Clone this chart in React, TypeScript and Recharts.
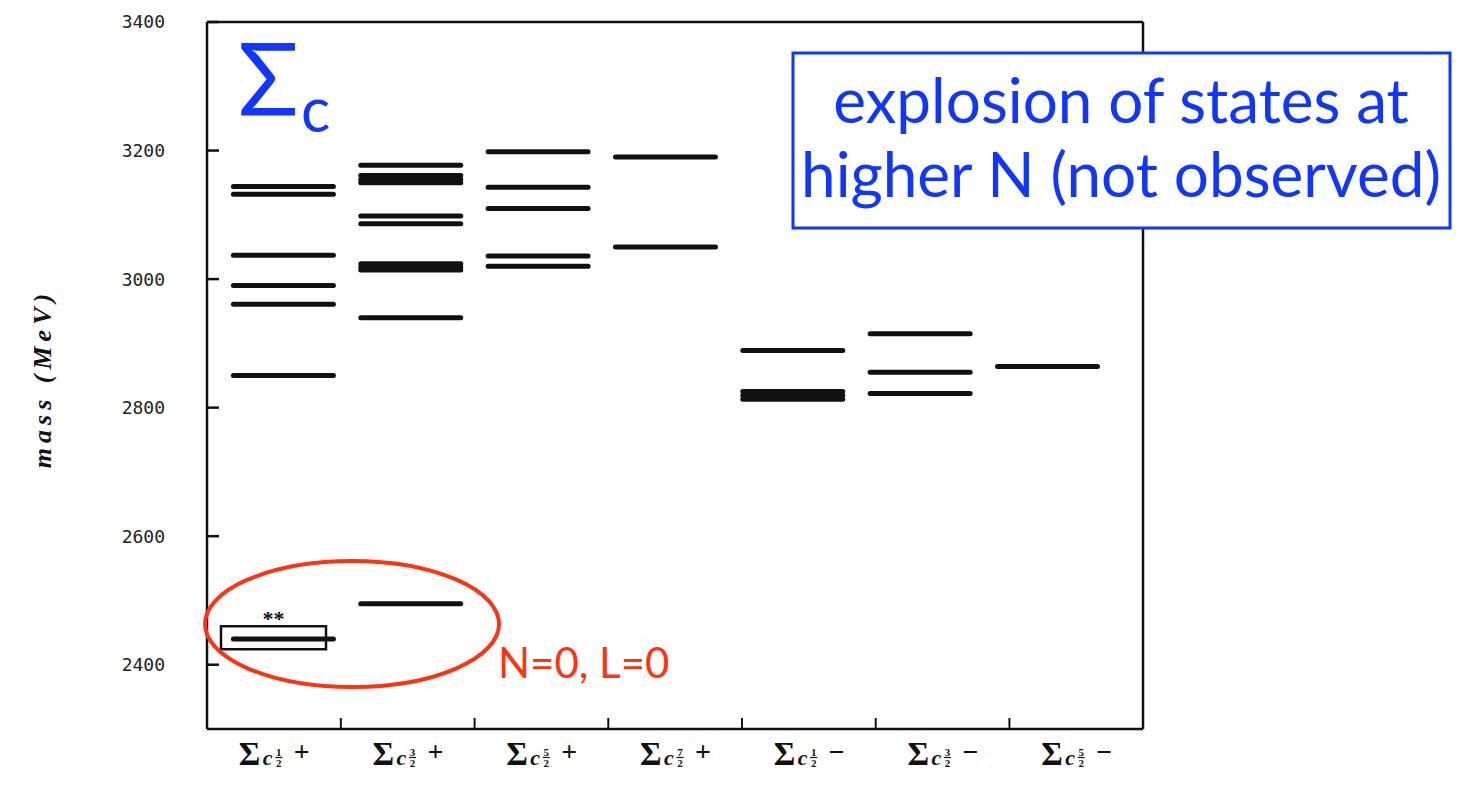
import React from 'react';
import { ComposedChart, XAxis, YAxis, Scatter, Bar, LabelList, ReferenceLine } from 'recharts';

// J^P columns of the Sigma_c spectrum
const spins = ['1/2', '3/2', '5/2', '7/2', '1/2', '3/2', '5/2'];
const parities = ['+', '+', '+', '+', '−', '−', '−'];

// predicted masses (MeV), one list per column
const levels12p = [3144, 3132, 3037, 2990, 2961, 2850, 2440];
const levels32p = [3177, 3161, 3155, 3150, 3098, 3086, 3024, 3019, 3014, 2940, 2495];
const levels52p = [3198, 3143, 3110, 3036, 3020];
const levels72p = [3190, 3050];
const levels12m = [2889, 2825, 2819, 2813];
const levels32m = [2915, 2855, 2822];
const levels52m = [2864];

// measured ground state band (MeV)
const measuredBand = [2424, 2460];
const massTicks = [2400, 2600, 2800, 3000, 3200, 3400];

const BLUE = '#1136ff';
const RED = '#ff3312';
const INK = '#111';
const HALF_BAND = 67;

const columns = [levels12p, levels32p, levels52p, levels72p, levels12m, levels32m, levels52m];
const levelPoints = columns.flatMap((masses, col) => masses.map((mass) => ({ col, mass })));

const names = spins.map((s, i) => `Σc ${s}${parities[i]}`);
const rows = names.map((name, i) => ({
  name,
  box: i === 0 ? measuredBand : null,
  note: i === 0 ? '**' : '',
}));

const MassTick = ({ x, y, payload }: any) => (
  <g>
    <text x={x} y={y} dy="0.36em" textAnchor="end" fontFamily="'DejaVu Sans Mono', monospace" fontSize={18} fill="#222">
      {payload.value}
    </text>
    <line x1={x + 42} x2={x + 54} y1={y} y2={y} stroke={INK} strokeWidth={2.5} />
  </g>
);

const InnerTick = ({ x, y }: any) => <line x1={x - 12} x2={x} y1={y} y2={y} stroke={INK} strokeWidth={2.5} />;

const SpinTick = (props: any) => {
  const { x, y, payload } = props;
  const index = props.index ?? payload.index;
  const [num, den] = spins[index].split('/');
  const base = y + 36;
  return (
    <g fill={INK} fontFamily="'Liberation Serif', serif" fontWeight="bold">
      <text x={x - 35} y={base} fontSize={33}>Σ</text>
      <text x={x - 11} y={base} fontSize={22} fontStyle="italic">c</text>
      <text x={x + 5} y={base - 9} fontSize={11} textAnchor="middle">{num}</text>
      <line x1={x + 1.5} x2={x + 8.5} y1={base - 7.5} y2={base - 7.5} stroke={INK} strokeWidth={1.2} />
      <text x={x + 5} y={base + 2} fontSize={11} textAnchor="middle">{den}</text>
      <text x={x + 28} y={base - 4} fontSize={28} textAnchor="middle">{parities[index]}</text>
      {index < spins.length - 1 && (
        <line x1={x + HALF_BAND} x2={x + HALF_BAND} y1={y} y2={y - 11} stroke={INK} strokeWidth={2} />
      )}
    </g>
  );
};

const MassLabel = ({ viewBox }: any) => {
  const cx = viewBox.x - 105;
  const cy = viewBox.y + viewBox.height / 2 + 3;
  return (
    <text
      x={cx}
      y={cy}
      transform={`rotate(-90 ${cx} ${cy})`}
      textAnchor="middle"
      dominantBaseline="central"
      fontFamily="'Liberation Serif', serif"
      fontStyle="italic"
      fontWeight="bold"
      fontSize={26}
      letterSpacing={5}
      fill={INK}
    >
      mass (MeV)
    </text>
  );
};

// one horizontal bar per predicted level
const LevelLine = ({ cx, cy }: any) => (
  <line x1={cx - 50} x2={cx + 50} y1={cy} y2={cy} stroke={INK} strokeWidth={5} strokeLinecap="round" />
);

const App = () => (
  <div style={{ position: 'absolute', left: 0, top: 0, width: 1463, height: 788, background: '#fff' }}>
    <ComposedChart width={1463} height={788} data={rows} margin={{ top: 22, right: 310, bottom: 0, left: 147 }}>
      <XAxis
        dataKey="name"
        interval={0}
        height={59}
        tickSize={0}
        tickMargin={0}
        tickLine={false}
        axisLine={{ stroke: INK, strokeWidth: 2.5 }}
        tick={(p: any) => <SpinTick {...p} />}
      />
      <XAxis xAxisId="levels" dataKey="col" type="number" domain={[-0.6, 6.75]} hide />
      <YAxis
        dataKey="mass"
        type="number"
        domain={[2300, 3400]}
        ticks={massTicks}
        width={60}
        tickSize={0}
        tickMargin={42}
        tickLine={false}
        axisLine={{ stroke: INK, strokeWidth: 2.5 }}
        tick={(p: any) => <MassTick {...p} />}
        label={(p: any) => <MassLabel {...p} />}
      />
      <YAxis
        yAxisId="right"
        orientation="right"
        type="number"
        domain={[2300, 3400]}
        ticks={massTicks.slice(0, -1)}
        width={10}
        tickSize={0}
        tickMargin={0}
        tickLine={false}
        axisLine={{ stroke: INK, strokeWidth: 2.5 }}
        tick={(p: any) => <InnerTick {...p} />}
      />
      <ReferenceLine y={3400} stroke={INK} strokeWidth={2.5} />
      <Bar dataKey="box" fill="#fff" stroke={INK} strokeWidth={2.5} barSize={105} isAnimationActive={false}>
        <LabelList dataKey="note" position="top" offset={0} fill={INK} fontSize={22} fontWeight="bold" />
      </Bar>
      <Scatter xAxisId="levels" data={levelPoints} dataKey="mass" shape={(p: any) => <LevelLine {...p} />} isAnimationActive={false} />
    </ComposedChart>
    <svg width={1463} height={788} style={{ position: 'absolute', left: 0, top: 0, pointerEvents: 'none' }}>
      <g fontFamily="Lato, 'Open Sans', sans-serif" fill={BLUE}>
        <text x={238} y={115} fontSize={100}>Σ</text>
        <text x={301} y={132} fontSize={61}>c</text>
      </g>
      <rect x={793} y={53} width={657} height={175} fill="#fff" stroke={BLUE} strokeWidth={3} />
      <g fontFamily="Lato, 'Open Sans', sans-serif" fill={BLUE} fontSize={62} textAnchor="middle">
        <text x={1121} y={123}>explosion of states at</text>
        <text x={1121} y={197}>higher N (not observed)</text>
      </g>
      <ellipse cx={352} cy={624} rx={147} ry={63} fill="none" stroke={RED} strokeWidth={4} />
      <text x={498} y={678} fontFamily="Lato, 'Open Sans', sans-serif" fontSize={42} fill={RED}>
        N=0, L=0
      </text>
    </svg>
  </div>
);

export default App;
